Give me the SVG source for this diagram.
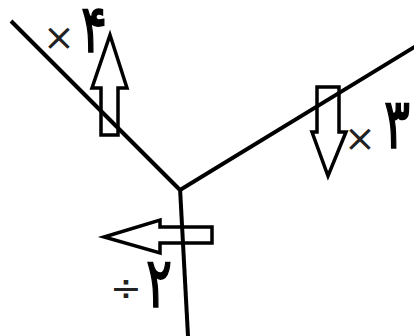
<svg xmlns="http://www.w3.org/2000/svg" width="414" height="336" viewBox="0 0 414 336">
<style>
.ln{stroke:#000;stroke-width:4;fill:none;stroke-linecap:butt}
.ar{stroke:#000;stroke-width:3.5;fill:none;stroke-linejoin:miter}
.op{font-family:"DejaVu Sans",sans-serif;font-size:38px;fill:#222;text-anchor:middle}
.dg{font-family:"DejaVu Sans",sans-serif;font-size:54px;fill:#000;stroke:#000;stroke-width:1.3;text-anchor:middle}
</style>
<rect width="414" height="336" fill="#fff"/>
<g id="lines">
<line class="ln" x1="11" y1="21" x2="180" y2="190"/>
<line class="ln" x1="180" y1="190" x2="416" y2="46"/>
<line class="ln" x1="180" y1="188" x2="188" y2="336"/>
</g>
<g id="arrow-up">
<path class="ar" d="M101,135 L101,88 L92,88 L110,35 L127,88 L118,88 L118,135 Z"/>
</g>
<g id="arrow-down">
<path class="ar" d="M317,87 L339,87 L339,132 L346,132 L328,176 L312,132 L317,132 Z"/>
</g>
<g id="arrow-left">
<path class="ar" d="M212,227 L212,243 L160,243 L160,253 L104,237 L160,220 L160,227 Z"/>
</g>
<g id="label-4"><text class="op" x="59" y="50">×</text><text class="dg" transform="translate(94,52) scale(0.9,1.25)">۴</text></g>
<g id="label-3"><text class="op" x="360" y="151">×</text><text class="dg" transform="translate(397,148) scale(0.9,1.3)">۳</text></g>
<g id="label-2"><text class="op" x="126" y="301">÷</text><text class="dg" transform="translate(159,307) scale(0.9,1.3)">۲</text></g>
</svg>
